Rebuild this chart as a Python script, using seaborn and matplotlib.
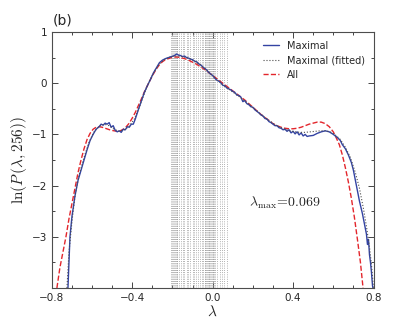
import numpy as np
import pandas as pd
import matplotlib
matplotlib.use('Agg')
import matplotlib.pyplot as plt
from matplotlib.ticker import MultipleLocator
import seaborn as sns

# Maximal (noisy measured curve)
lam_max = [-0.72, -0.715, -0.71, -0.70, -0.685, -0.67, -0.655, -0.64, -0.625, -0.61,
           -0.595, -0.58, -0.565, -0.555, -0.545, -0.535, -0.525, -0.515, -0.505, -0.495,
           -0.485, -0.475, -0.465, -0.455, -0.445, -0.435, -0.425, -0.415, -0.405, -0.395,
           -0.385, -0.37, -0.355, -0.34, -0.325, -0.31, -0.295, -0.28, -0.265, -0.25,
           -0.235, -0.22, -0.205, -0.19, -0.18, -0.17, -0.16, -0.15, -0.14, -0.13,
           -0.12, -0.11, -0.10, -0.09, -0.08, -0.07, -0.06, -0.05, -0.04, -0.03,
           -0.02, -0.01, 0.0, 0.01, 0.02, 0.03, 0.04, 0.05, 0.06, 0.07,
           0.08, 0.09, 0.10, 0.11, 0.12, 0.13, 0.14, 0.15, 0.16, 0.17,
           0.18, 0.19, 0.20, 0.21, 0.22, 0.23, 0.24, 0.25, 0.26, 0.27,
           0.28, 0.29, 0.30, 0.31, 0.32, 0.33, 0.34, 0.35, 0.36, 0.37,
           0.38, 0.39, 0.40, 0.41, 0.42, 0.43, 0.44, 0.45, 0.46, 0.47,
           0.48, 0.50, 0.52, 0.54, 0.56, 0.58, 0.60, 0.62, 0.635, 0.645,
           0.66, 0.675, 0.69, 0.70, 0.71, 0.72, 0.73, 0.745, 0.755, 0.765,
           0.77, 0.775, 0.78, 0.785, 0.79, 0.795, 0.797]
lnp_max = [-4.0, -3.5, -3.0, -2.6, -2.2, -1.9, -1.7, -1.5, -1.3, -1.12,
           -1.0, -0.9, -0.85, -0.80, -0.82, -0.78, -0.80, -0.77, -0.86, -0.83,
           -0.92, -0.95, -0.93, -0.96, -0.90, -0.91, -0.85, -0.86, -0.80, -0.80,
           -0.70, -0.52, -0.35, -0.18, -0.05, 0.07, 0.20, 0.30, 0.40, 0.45,
           0.48, 0.50, 0.52, 0.54, 0.57, 0.55, 0.54, 0.52, 0.53, 0.50,
           0.49, 0.47, 0.46, 0.43, 0.42, 0.38, 0.36, 0.32, 0.29, 0.26,
           0.21, 0.18, 0.15, 0.10, 0.06, 0.04, 0.01, -0.04, -0.05, -0.09,
           -0.11, -0.13, -0.16, -0.18, -0.23, -0.24, -0.27, -0.36, -0.34, -0.40,
           -0.42, -0.46, -0.47, -0.52, -0.55, -0.58, -0.62, -0.64, -0.69, -0.70,
           -0.75, -0.77, -0.80, -0.83, -0.83, -0.87, -0.88, -0.91, -0.90, -0.94,
           -0.91, -0.97, -0.94, -0.99, -0.95, -1.01, -0.97, -1.03, -1.00, -1.04,
           -1.03, -1.02, -0.98, -0.95, -0.93, -0.95, -1.00, -1.06, -1.12, -1.20,
           -1.28, -1.40, -1.55, -1.70, -1.90, -2.10, -2.30, -2.55, -2.75, -2.95,
           -3.15, -3.05, -3.35, -3.50, -3.70, -3.95, -4.0]

# Maximal (fitted)
lam_fit = [-0.725, -0.715, -0.70, -0.685, -0.665, -0.64, -0.615, -0.59, -0.565, -0.54,
           -0.515, -0.49, -0.465, -0.44, -0.415, -0.39, -0.365, -0.34, -0.315, -0.29,
           -0.265, -0.24, -0.215, -0.19, -0.165, -0.14, -0.115, -0.09, -0.065, -0.04,
           -0.015, 0.01, 0.035, 0.06, 0.085, 0.11, 0.135, 0.16, 0.185, 0.21,
           0.235, 0.26, 0.285, 0.31, 0.335, 0.36, 0.385, 0.41, 0.435, 0.46,
           0.485, 0.51, 0.535, 0.56, 0.585, 0.61, 0.635, 0.66, 0.685, 0.71,
           0.73, 0.75, 0.765, 0.78, 0.79, 0.80]
lnp_fit = [-4.0, -3.3, -2.7, -2.2, -1.8, -1.45, -1.15, -0.95, -0.84, -0.80,
           -0.83, -0.90, -0.94, -0.91, -0.84, -0.70, -0.47, -0.20, 0.04, 0.23,
           0.38, 0.46, 0.51, 0.53, 0.53, 0.51, 0.48, 0.43, 0.37, 0.29,
           0.20, 0.11, 0.02, -0.06, -0.13, -0.20, -0.27, -0.35, -0.43, -0.51,
           -0.59, -0.67, -0.74, -0.81, -0.86, -0.90, -0.93, -0.95, -0.96, -0.96,
           -0.95, -0.94, -0.93, -0.93, -0.95, -1.01, -1.10, -1.25, -1.45, -1.75,
           -2.05, -2.45, -2.8, -3.2, -3.55, -4.0]

# All
lam_all = [-0.775, -0.76, -0.745, -0.73, -0.715, -0.70, -0.685, -0.67, -0.655, -0.64,
           -0.625, -0.61, -0.595, -0.58, -0.565, -0.55, -0.535, -0.52, -0.505, -0.49,
           -0.475, -0.46, -0.445, -0.43, -0.415, -0.40, -0.385, -0.37, -0.355, -0.34,
           -0.325, -0.31, -0.295, -0.28, -0.265, -0.25, -0.235, -0.22, -0.205, -0.19,
           -0.175, -0.16, -0.14, -0.12, -0.10, -0.08, -0.06, -0.04, -0.02, 0.0,
           0.02, 0.04, 0.06, 0.08, 0.10, 0.12, 0.14, 0.16, 0.18, 0.20,
           0.22, 0.24, 0.26, 0.28, 0.30, 0.32, 0.34, 0.36, 0.38, 0.40,
           0.42, 0.44, 0.46, 0.48, 0.50, 0.52, 0.54, 0.56, 0.58, 0.60,
           0.615, 0.63, 0.645, 0.66, 0.675, 0.69, 0.705, 0.72, 0.735, 0.748]
lnp_all = [-4.0, -3.6, -3.3, -3.0, -2.65, -2.35, -2.05, -1.75, -1.5, -1.28,
           -1.1, -0.98, -0.90, -0.86, -0.85, -0.86, -0.88, -0.90, -0.92, -0.93,
           -0.94, -0.93, -0.90, -0.85, -0.78, -0.68, -0.57, -0.44, -0.31, -0.17,
           -0.05, 0.07, 0.18, 0.28, 0.36, 0.42, 0.46, 0.48, 0.50, 0.51,
           0.51, 0.50, 0.48, 0.45, 0.41, 0.37, 0.32, 0.27, 0.21, 0.15,
           0.09, 0.03, -0.03, -0.09, -0.15, -0.21, -0.27, -0.33, -0.40, -0.47,
           -0.54, -0.61, -0.67, -0.73, -0.79, -0.83, -0.86, -0.88, -0.89, -0.89,
           -0.88, -0.86, -0.83, -0.80, -0.78, -0.76, -0.76, -0.79, -0.85, -0.95,
           -1.07, -1.20, -1.40, -1.65, -1.93, -2.25, -2.62, -3.05, -3.5, -4.0]

# positions of the vertical dotted guide lines
vlines = [-0.205, -0.200, -0.196, -0.192, -0.188, -0.184, -0.180, -0.176,
          -0.168, -0.160, -0.150, -0.142, -0.130, -0.122, -0.112, -0.100,
          -0.092, -0.082, -0.072, -0.062, -0.055, -0.048,
          -0.040, -0.036, -0.032, -0.028, -0.024, -0.020, -0.016, -0.012,
          -0.008, -0.004, 0.000, 0.004, 0.008, 0.012,
          0.022, 0.034, 0.046, 0.058, 0.069]

sns.set_style('ticks')
plt.rcParams['font.family'] = ['DejaVu Sans']
plt.rcParams['mathtext.fontset'] = 'cm'
plt.rcParams['xtick.direction'] = 'in'
plt.rcParams['ytick.direction'] = 'in'

fig, ax = plt.subplots(figsize=(4.15, 3.2), dpi=100)
fig.subplots_adjust(left=0.125, right=0.9, bottom=0.1, top=0.9)

for v in vlines:
    ax.axvline(v, color='0.6', linestyle=':', linewidth=0.6, zorder=1)

sns.lineplot(x=lam_max, y=lnp_max, ax=ax, color='#3343a3', linewidth=1.0,
             sort=False, estimator=None, label='Maximal', zorder=3)
sns.lineplot(x=lam_fit, y=lnp_fit, ax=ax, color='0.3', linewidth=0.8,
             linestyle=':', sort=False, estimator=None, label='Maximal (fitted)', zorder=4)
sns.lineplot(x=lam_all, y=lnp_all, ax=ax, color='#e3262c', linewidth=1.0,
             linestyle='--', dashes=(3, 2), sort=False, estimator=None, label='All', zorder=2)

ax.set_xlim(-0.8, 0.8)
ax.set_ylim(-4, 1)
ax.set_xticks([-0.8, -0.4, 0.0, 0.4, 0.8])
ax.set_yticks([-3, -2, -1, 0, 1])
ax.xaxis.set_minor_locator(MultipleLocator(0.1))
ax.yaxis.set_minor_locator(MultipleLocator(0.5))
ax.tick_params(which='both', top=True, right=True, labelsize=7.5, width=0.6)
ax.tick_params(which='major', length=4)
ax.tick_params(which='minor', length=2)
for s in ax.spines.values():
    s.set_linewidth(0.8)
    s.set_color('0.3')

ax.set_xlabel(r'$\lambda$', fontsize=11, labelpad=1)
ax.set_ylabel(r'$\ln(P\,(\lambda,256))$', fontsize=11, labelpad=2)
ax.text(0.182, -2.34, r'$\lambda_{\rm max}\!=\!0.069$', fontsize=10, va='center', ha='left')
fig.text(0.128, 0.925, '(b)', fontsize=10)

ax.legend(loc='upper right', frameon=False, fontsize=7, handlelength=1.6,
          borderaxespad=0.5, labelspacing=0.45)

fig.savefig('out.png', dpi=100)
